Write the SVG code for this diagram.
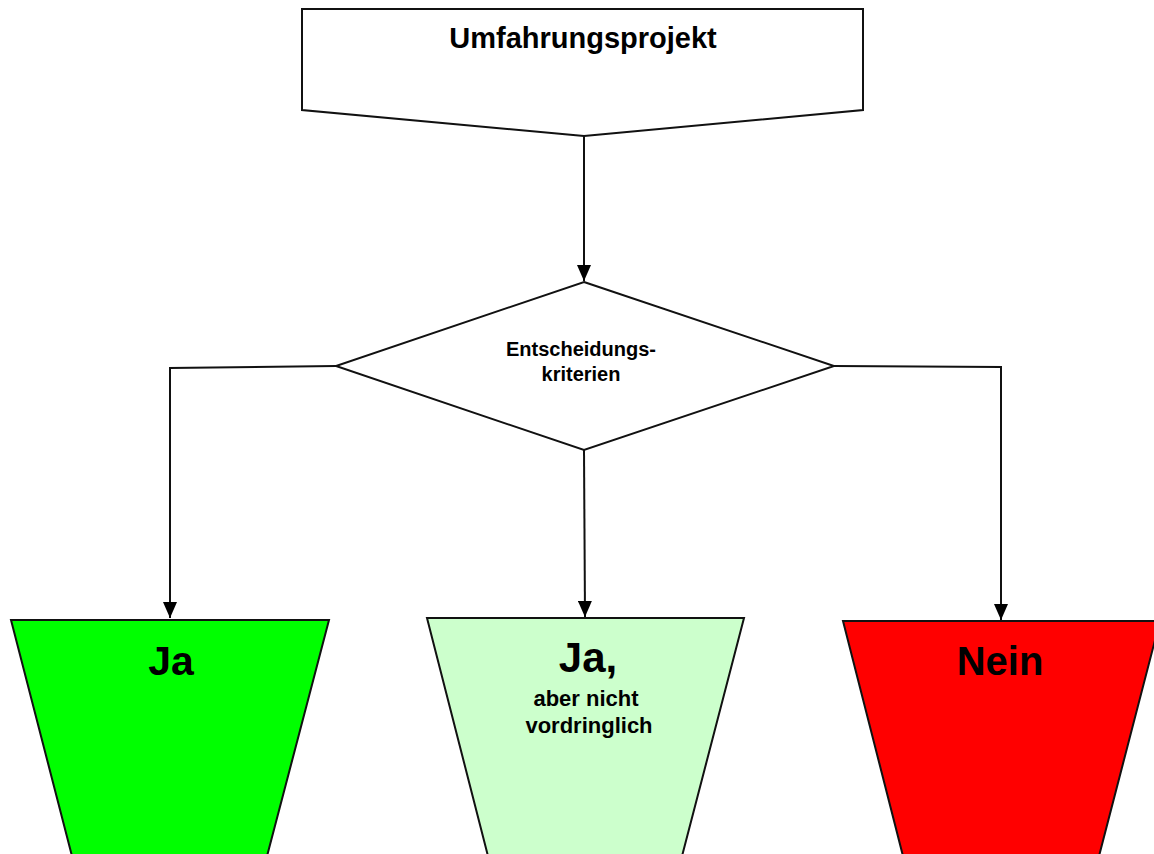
<svg xmlns="http://www.w3.org/2000/svg" width="1154" height="854" viewBox="0 0 1154 854">
<defs>
<style>
.shape{stroke:#111;stroke-width:2;stroke-linejoin:miter}
.conn{fill:none;stroke:#111;stroke-width:2}
.t{font-family:"Liberation Sans",Arial,sans-serif;font-weight:bold;fill:#000;text-anchor:middle}
</style>
<marker id="arr" markerUnits="userSpaceOnUse" markerWidth="16" markerHeight="14" refX="16" refY="7" orient="auto">
<path d="M0,0 L16,7 L0,14 z" fill="#000"/>
</marker>
</defs>
<rect width="1154" height="854" fill="#fff"/>
<g id="connectors">
<path class="conn" d="M584,136 L584,281" marker-end="url(#arr)"/>
<path class="conn" d="M336,366 L170,368 L170,618" marker-end="url(#arr)"/>
<path class="conn" d="M584,450 L585,617" marker-end="url(#arr)"/>
<path class="conn" d="M834,366 L1001,367 L1001,620" marker-end="url(#arr)"/>
</g>
<g id="umfahrungsprojekt">
<polygon class="shape" fill="#fff" points="302,9 863,9 863,110 584,136 302,110"/>
<text class="t" x="583" y="48" font-size="29">Umfahrungsprojekt</text>
</g>
<g id="entscheidungskriterien">
<polygon class="shape" fill="#fff" points="584,282 834,366 584,450 336,366"/>
<text class="t" x="581" y="356" font-size="20">Entscheidungs-</text>
<text class="t" x="581" y="381" font-size="20">kriterien</text>
</g>
<g id="ja">
<polygon class="shape" fill="#00ff00" points="11,620 329,620 266,860 73,860"/>
<text class="t" x="171" y="675" font-size="41">Ja</text>
</g>
<g id="ja-aber">
<polygon class="shape" fill="#ccffcc" points="427,618 744,618 681,860 489,860"/>
<text class="t" x="588" y="672" font-size="42">Ja,</text>
<text class="t" x="586" y="706" font-size="22">aber nicht</text>
<text class="t" x="589" y="733" font-size="22">vordringlich</text>
</g>
<g id="nein">
<polygon class="shape" fill="#ff0000" points="843,621 1160,621 1098,860 904,860"/>
<text class="t" x="1000" y="675" font-size="40">Nein</text>
</g>
</svg>
